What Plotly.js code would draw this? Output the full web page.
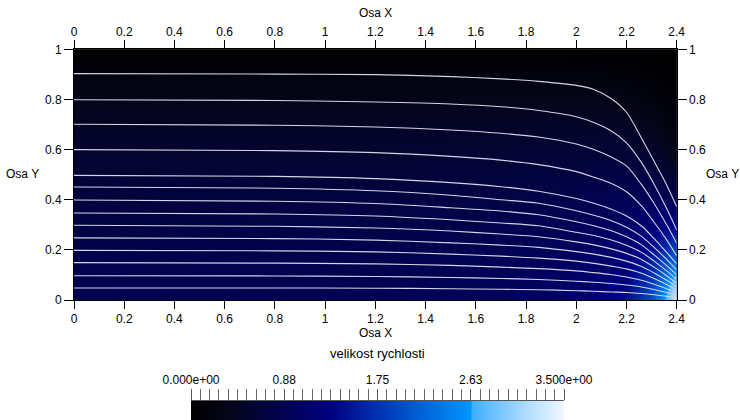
<!DOCTYPE html>
<html>
<head>
<meta charset="utf-8">
<script src="https://cdn.plot.ly/plotly-3.0.1.min.js"></script>
<style>html,body{margin:0;padding:0;background:#fff;}#chart{width:740px;height:420px;}</style>
</head>
<body>
<div id="chart"></div>
<script>
// ---- axis ticks ----
const xTickVals = [0, 0.2, 0.4, 0.6, 0.8, 1, 1.2, 1.4, 1.6, 1.8, 2, 2.2, 2.4];
const xTickText = ["0", "0.2", "0.4", "0.6", "0.8", "1", "1.2", "1.4", "1.6", "1.8", "2", "2.2", "2.4"];
const yTickVals = [0, 0.2, 0.4, 0.6, 0.8, 1];
const yTickText = ["0", "0.2", "0.4", "0.6", "0.8", "1"];

// ---- colour bar ticks ----
const cbTickVals = [0, 0.875, 1.75, 2.625, 3.5];
const cbTickText = ["0.000e+00", "0.88", "1.75", "2.63", "3.500e+00"];

// ---- velocity magnitude field ----
const fieldX = [0, 0.4, 0.8, 1.2, 1.6, 1.9, 2.1, 2.2, 2.3, 2.35, 2.4];
const fieldY = [0, 0.1, 0.2, 0.3, 0.4, 0.5, 0.6, 0.7, 0.8, 0.9, 1.0];
const fieldZ = [
  [0.87, 0.87, 0.88, 0.90, 0.95, 1.04, 1.22, 1.42, 2.00, 2.60, 3.50],
  [0.85, 0.85, 0.86, 0.87, 0.92, 1.00, 1.15, 1.32, 1.75, 2.20, 2.70],
  [0.81, 0.81, 0.82, 0.83, 0.88, 0.95, 1.07, 1.20, 1.45, 1.70, 1.95],
  [0.76, 0.76, 0.77, 0.78, 0.82, 0.89, 0.98, 1.06, 1.20, 1.30, 1.35],
  [0.70, 0.70, 0.71, 0.72, 0.76, 0.81, 0.88, 0.93, 0.97, 0.95, 0.85],
  [0.62, 0.62, 0.63, 0.64, 0.67, 0.71, 0.75, 0.76, 0.72, 0.62, 0.50],
  [0.55, 0.55, 0.55, 0.56, 0.58, 0.60, 0.62, 0.60, 0.52, 0.42, 0.30],
  [0.45, 0.45, 0.45, 0.46, 0.47, 0.48, 0.48, 0.45, 0.35, 0.27, 0.18],
  [0.35, 0.35, 0.35, 0.35, 0.36, 0.36, 0.34, 0.30, 0.20, 0.14, 0.08],
  [0.20, 0.20, 0.20, 0.20, 0.20, 0.19, 0.17, 0.13, 0.08, 0.05, 0.03],
  [0.00, 0.00, 0.00, 0.00, 0.00, 0.00, 0.00, 0.00, 0.00, 0.00, 0.00]
];

// ---- streamlines ----
const streamX = [0, 0.8, 1.2, 1.5, 1.7, 1.85, 2.0, 2.07, 2.14, 2.2, 2.26, 2.31, 2.36, 2.4];
const streamY = [
  [0.903, 0.901, 0.899, 0.891, 0.882, 0.872, 0.856, 0.840, 0.803, 0.749, 0.645, 0.553, 0.459, 0.372],
  [0.799, 0.796, 0.790, 0.782, 0.771, 0.756, 0.731, 0.708, 0.674, 0.627, 0.548, 0.462, 0.365, 0.279],
  [0.701, 0.697, 0.690, 0.678, 0.665, 0.650, 0.622, 0.600, 0.570, 0.535, 0.460, 0.385, 0.300, 0.226],
  [0.600, 0.596, 0.588, 0.573, 0.558, 0.540, 0.512, 0.490, 0.465, 0.432, 0.375, 0.310, 0.240, 0.176],
  [0.497, 0.493, 0.484, 0.468, 0.452, 0.434, 0.405, 0.386, 0.362, 0.335, 0.295, 0.245, 0.190, 0.144],
  [0.451, 0.446, 0.436, 0.418, 0.400, 0.386, 0.356, 0.338, 0.316, 0.290, 0.254, 0.210, 0.162, 0.120],
  [0.399, 0.394, 0.385, 0.368, 0.355, 0.340, 0.312, 0.296, 0.276, 0.252, 0.220, 0.180, 0.137, 0.100],
  [0.347, 0.343, 0.335, 0.320, 0.307, 0.296, 0.270, 0.257, 0.239, 0.218, 0.190, 0.155, 0.116, 0.083],
  [0.298, 0.294, 0.287, 0.275, 0.263, 0.252, 0.232, 0.220, 0.204, 0.186, 0.162, 0.131, 0.097, 0.067],
  [0.248, 0.245, 0.239, 0.228, 0.219, 0.210, 0.193, 0.183, 0.170, 0.155, 0.134, 0.108, 0.079, 0.053],
  [0.198, 0.196, 0.192, 0.183, 0.175, 0.167, 0.155, 0.146, 0.135, 0.124, 0.107, 0.086, 0.062, 0.040],
  [0.149, 0.147, 0.144, 0.138, 0.131, 0.125, 0.116, 0.109, 0.101, 0.092, 0.079, 0.063, 0.045, 0.029],
  [0.097, 0.096, 0.094, 0.090, 0.086, 0.082, 0.075, 0.071, 0.066, 0.060, 0.052, 0.042, 0.030, 0.020],
  [0.048, 0.048, 0.047, 0.045, 0.043, 0.041, 0.037, 0.035, 0.032, 0.030, 0.026, 0.021, 0.015, 0.010]
];

const colorScale = [
  [0, '#000000'], [0.1, '#05051a'], [0.25, '#020252'], [0.375, '#000080'],
  [0.5, '#0032b2'], [0.75, '#0096ff'], [0.755, '#40b0ff'], [0.9, '#b0dcff'], [1, '#f0f8ff']
];

const FONT = 'Liberation Sans, Arial, sans-serif';
const W = 740, H = 420;
const px = v => v / W, py = v => 1 - v / H;

const traces = [];
traces.push({
  type: 'heatmap', x: fieldX, y: fieldY, z: fieldZ, zsmooth: 'best',
  zmin: 0, zmax: 3.5, colorscale: colorScale, hoverinfo: 'skip',
  colorbar: {
    orientation: 'h', x: px(377.5), xanchor: 'center', y: py(401), yanchor: 'top',
    len: 373, lenmode: 'pixels', thickness: 19, thicknessmode: 'pixels',
    outlinewidth: 0, showticklabels: false, ticks: '', xpad: 0, ypad: 0
  }
});
streamY.forEach(ys => traces.push({
  type: 'scatter', mode: 'lines', x: streamX, y: ys, hoverinfo: 'skip', showlegend: false,
  line: {color: 'rgb(212,212,226)', width: 1.1, shape: 'spline', smoothing: 0.8}
}));
// helper traces so that overlay axes are drawn
traces.push({type: 'scatter', mode: 'markers', x: [0], y: [0], xaxis: 'x2', yaxis: 'y', marker: {opacity: 0}, hoverinfo: 'skip', showlegend: false});
traces.push({type: 'scatter', mode: 'markers', x: [0], y: [0], xaxis: 'x', yaxis: 'y2', marker: {opacity: 0}, hoverinfo: 'skip', showlegend: false});
traces.push({type: 'scatter', mode: 'markers', x: [0], y: [0], xaxis: 'x3', yaxis: 'y3', marker: {opacity: 0}, hoverinfo: 'skip', showlegend: false});

const tickFont = {family: FONT, size: 12, color: '#000'};
const xBase = {
  range: [0, 2.4], tickvals: xTickVals, ticktext: xTickText, ticks: 'outside', ticklen: 8,
  tickcolor: '#000', tickwidth: 1, showline: true, linecolor: '#000', linewidth: 1,
  showgrid: false, zeroline: false, tickfont: tickFont, fixedrange: true
};
const yBase = {
  range: [0, 1], tickvals: yTickVals, ticktext: yTickText, ticks: 'outside', ticklen: 9,
  tickcolor: '#000', tickwidth: 1, showline: true, linecolor: '#000', linewidth: 1,
  showgrid: false, zeroline: false, tickfont: tickFont, fixedrange: true
};
const xDom = [px(74), px(676.7)];
const yDom = [py(300), py(49.3)];

const shapes = cbTickVals.slice(1, -1).map(v => ({
  type: 'line', xref: 'x3', yref: 'paper', x0: v, x1: v, y0: py(401), y1: py(408),
  line: {color: '#444', width: 1}
}));

const annFont = {family: FONT, size: 12, color: '#000'};
const layout = {
  width: W, height: H, margin: {l: 0, r: 0, t: 0, b: 0},
  paper_bgcolor: '#fff', plot_bgcolor: '#000', showlegend: false,
  xaxis: Object.assign({}, xBase, {domain: xDom, anchor: 'y', side: 'bottom'}),
  xaxis2: Object.assign({}, xBase, {overlaying: 'x', anchor: 'y', side: 'top'}),
  yaxis: Object.assign({}, yBase, {domain: yDom, anchor: 'x', side: 'left'}),
  yaxis2: Object.assign({}, yBase, {overlaying: 'y', anchor: 'x', side: 'right'}),
  xaxis3: {
    domain: [px(191), px(564)], anchor: 'y3', side: 'top', range: [0, 3.5],
    tickvals: cbTickVals, ticktext: cbTickText, ticks: 'outside', ticklen: 11,
    tickcolor: '#555', showline: true, linecolor: '#555', showgrid: false, zeroline: false,
    tickfont: tickFont, fixedrange: true,
    minor: {dtick: 0.0875, tick0: 0, ticks: 'outside', ticklen: 11, tickcolor: '#666', showgrid: false}
  },
  yaxis3: {domain: [0, py(401)], anchor: 'x3', range: [0, 1], visible: false, fixedrange: true},
  shapes: shapes,
  annotations: [
    {text: 'Osa X', xref: 'paper', yref: 'paper', x: px(375.3), y: py(13), showarrow: false, font: annFont, xanchor: 'center', yanchor: 'middle'},
    {text: 'Osa X', xref: 'paper', yref: 'paper', x: px(375.3), y: py(333), showarrow: false, font: annFont, xanchor: 'center', yanchor: 'middle'},
    {text: 'Osa Y', xref: 'paper', yref: 'paper', x: px(22), y: py(174), showarrow: false, font: annFont, xanchor: 'center', yanchor: 'middle'},
    {text: 'Osa Y', xref: 'paper', yref: 'paper', x: px(722), y: py(174), showarrow: false, font: annFont, xanchor: 'center', yanchor: 'middle'},
    {text: 'velikost rychlosti', xref: 'paper', yref: 'paper', x: px(377), y: py(353), showarrow: false, font: {family: FONT, size: 13, color: '#000'}, xanchor: 'center', yanchor: 'middle'}
  ]
};

Plotly.newPlot('chart', traces, layout, {staticPlot: true, displayModeBar: false});
</script>
</body>
</html>
